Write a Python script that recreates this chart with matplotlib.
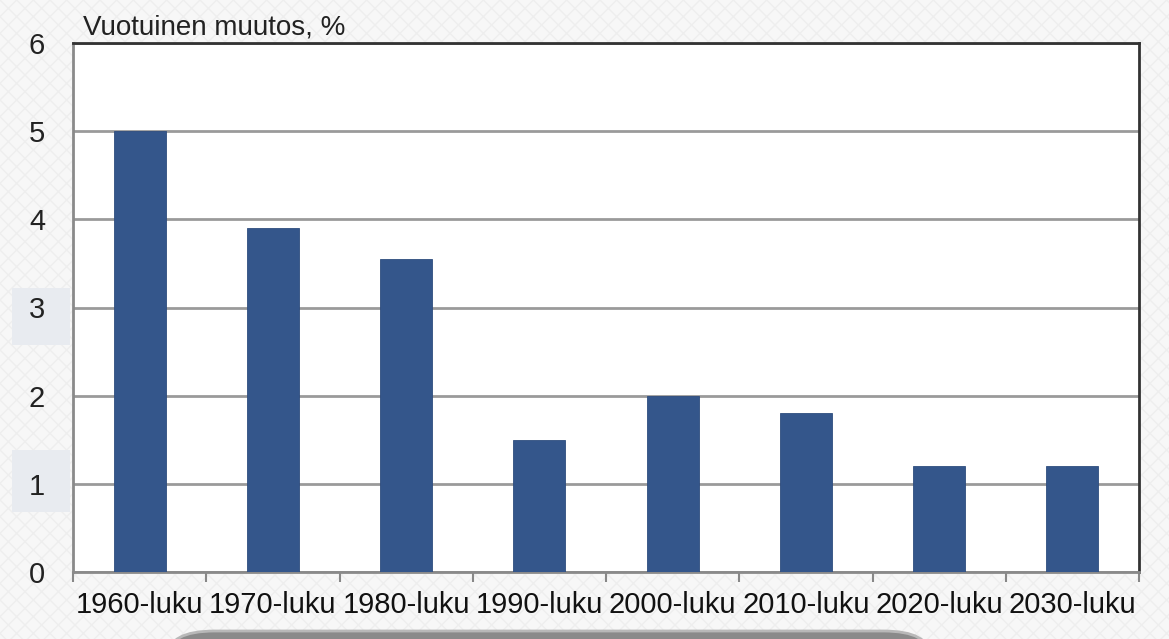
import matplotlib.pyplot as plt
from matplotlib.patches import Rectangle, FancyBboxPatch
import numpy as np

# data
decades = ['1960-luku', '1970-luku', '1980-luku', '1990-luku',
           '2000-luku', '2010-luku', '2020-luku', '2030-luku']
change = [5.0, 3.9, 3.55, 1.5, 2.0, 1.8, 1.2, 1.2]
yticks = [0, 1, 2, 3, 4, 5, 6]

plt.rcParams['font.family'] = ['Liberation Sans', 'DejaVu Sans']

W, H = 1169, 639
fig = plt.figure(figsize=(W / 100, H / 100), dpi=100)
fig.patch.set_facecolor('#f7f7f7')

# faint slide background: cross hatch, side bands, bottom button shape
bg = Rectangle((0, 0), 1, 1, transform=fig.transFigure, facecolor='none',
               edgecolor='#eeeeee', hatch='xx', linewidth=0, zorder=-10)
fig.patches.append(bg)
for y0, y1 in [(288, 345), (450, 512)]:
    fig.patches.append(Rectangle((12 / W, 1 - y1 / H), 58 / W, (y1 - y0) / H,
                                 transform=fig.transFigure, facecolor='#e8ebf0',
                                 edgecolor='none', zorder=-9))
btn = FancyBboxPatch((168 / W, -40 / H), 762 / W, 48 / H,
                     boxstyle='round,pad=0,rounding_size=0.04',
                     transform=fig.transFigure, facecolor='#8a8a8a',
                     edgecolor='#b8b8b8', linewidth=2, zorder=-8)
fig.patches.append(btn)

ax = fig.add_axes([73 / W, 1 - 572 / H, 1066 / W, 529 / H])
ax.set_facecolor('white')

x = np.arange(len(decades))
ax.bar(x, change, width=0.39, color='#34568b', edgecolor='#2e4d7e',
       linewidth=0.6, zorder=3)

ax.set_xlim(-0.5, len(decades) - 0.5)
ax.set_ylim(0, 6)
ax.set_yticks(yticks)
ax.set_yticklabels([str(v) for v in yticks])
ax.grid(axis='y', color='#9a9a9a', linewidth=2, zorder=0)

ax.set_xticks(x)
ax.set_xticklabels(decades)
ax.set_xticks(np.arange(-0.5, len(decades)), minor=True)
ax.tick_params(axis='x', which='major', length=0, labelsize=21, pad=14,
               labelcolor='#111111')
ax.tick_params(axis='x', which='minor', length=7, width=1.5, color='#888888',
               direction='out')
ax.tick_params(axis='y', length=0, labelsize=21, pad=20, labelcolor='#222222')

for side in ['left', 'bottom']:
    ax.spines[side].set_color('#8a8a8a')
    ax.spines[side].set_linewidth(2)
for side in ['top', 'right']:
    ax.spines[side].set_color('#333333')
    ax.spines[side].set_linewidth(2)

fig.text(83 / W, 1 - 35 / H, 'Vuotuinen muutos, %', fontsize=20,
         color='#222222', va='baseline', ha='left')

fig.savefig('out.png', dpi=100, facecolor=fig.get_facecolor())
